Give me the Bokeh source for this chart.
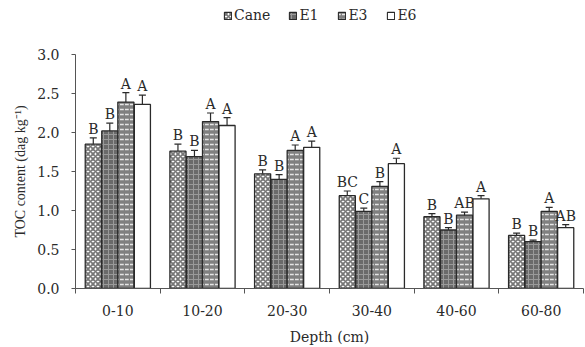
from bokeh.plotting import figure
from bokeh.layouts import column
from bokeh.models import (ColumnDataSource, Range1d, FixedTicker, Whisker, TeeHead,
                          Legend, LegendItem)
from bokeh.core.properties import value
from bokeh.embed import file_html
from bokeh.resources import INLINE

depths = ["0-10", "10-20", "20-30", "30-40", "40-60", "60-80"]
series = ["Cane", "E1", "E3", "E6"]
cane = [1.85, 1.76, 1.47, 1.19, 0.92, 0.68]
e1 = [2.02, 1.69, 1.40, 0.99, 0.75, 0.60]
e3 = [2.39, 2.14, 1.77, 1.31, 0.94, 0.99]
e6 = [2.36, 2.09, 1.81, 1.60, 1.15, 0.78]
cane_err = [0.08, 0.09, 0.05, 0.06, 0.04, 0.03]
e1_err = [0.10, 0.08, 0.06, 0.04, 0.03, 0.02]
e3_err = [0.12, 0.11, 0.07, 0.06, 0.04, 0.05]
e6_err = [0.12, 0.10, 0.08, 0.07, 0.04, 0.04]
cane_lbl = ["B", "B", "B", "BC", "B", "B"]
e1_lbl = ["B", "B", "B", "C", "B", "B"]
e3_lbl = ["A", "A", "A", "B", "AB", "A"]
e6_lbl = ["A", "A", "A", "A", "A", "AB"]
y_ticks = [0.0, 0.5, 1.0, 1.5, 2.0, 2.5, 3.0]

vals = [cane, e1, e3, e6]
errs = [cane_err, e1_err, e3_err, e6_err]
lbls = [cane_lbl, e1_lbl, e3_lbl, e6_lbl]

FONT = "DejaVu Serif"
VFONT = "Liberation Serif"
INK = "#2a2a2a"
styles = [
    dict(fill_color="white", hatch_pattern="diagonal_cross", hatch_color="#777777", hatch_scale=5, hatch_weight=1.8),
    dict(fill_color="#6a6a6a", hatch_pattern="cross", hatch_color="#9a9a9a", hatch_scale=5, hatch_weight=1),
    dict(fill_color="#808080", hatch_pattern="horizontal_dash", hatch_color="#e6e6e6", hatch_scale=5, hatch_weight=1.5),
    dict(fill_color="white", hatch_pattern=" ", hatch_color="white", hatch_scale=5, hatch_weight=1),
]

# legend strip on top (its ranges keep the proxy bars out of view)
lg = figure(width=585, height=46, output_backend="svg", toolbar_location=None,
            x_range=Range1d(100, 101), y_range=Range1d(100, 101),
            x_axis_location=None, y_axis_location=None,
            min_border_left=0, min_border_right=0, min_border_top=0, min_border_bottom=0)
lg.outline_line_color = None
lg.xgrid.grid_line_color = None
lg.ygrid.grid_line_color = None

p = figure(width=585, height=301, output_backend="svg", toolbar_location=None,
           x_range=Range1d(0, 6), y_range=Range1d(0, 3.0),
           min_border_left=75, min_border_top=8, min_border_bottom=59, min_border_right=2)
p.outline_line_color = None
p.xgrid.grid_line_color = None
p.ygrid.grid_line_color = None
p.background_fill_color = "white"

bw = 0.19
offs = [-0.29, -0.095, 0.095, 0.29]
items = []
for k in range(4):
    xs = [i + 0.5 + offs[k] for i in range(len(depths))]
    up = [v + e for v, e in zip(vals[k], errs[k])]
    lo = [v - e for v, e in zip(vals[k], errs[k])]
    src = ColumnDataSource(dict(x=xs, top=vals[k], upper=up, lower=lo, lbl=lbls[k]))
    p.vbar(x="x", top="top", width=bw, source=src, line_color=INK, line_width=1.3, **styles[k])
    proxy = lg.vbar(x="x", top="top", width=bw, source=src, line_color=INK, line_width=1.1, **styles[k])
    items.append(LegendItem(label=series[k], renderers=[proxy], index=0))
    w = Whisker(base="x", upper="upper", lower="lower", source=src, line_color=INK, line_width=1.2,
                upper_head=TeeHead(size=7, line_color=INK, line_width=1.2),
                lower_head=TeeHead(size=7, line_color=INK, line_width=1.2))
    p.add_layout(w)
    p.text(x="x", y="upper", text="lbl", source=src, text_align="center", text_baseline="bottom",
           y_offset=-1, text_font=value(FONT), text_font_size="14px", text_color=INK)

legend = Legend(items=items, orientation="horizontal", location=(148, 23),
                label_text_font=FONT, label_text_font_size="14px", label_text_color=INK,
                glyph_width=9, glyph_height=9, spacing=18, label_standoff=2, padding=0, margin=0,
                border_line_color=None, background_fill_alpha=0)
lg.add_layout(legend, "center")

ax = p.xaxis[0]
ax.ticker = FixedTicker(ticks=[i + 0.5 for i in range(6)], minor_ticks=list(range(7)))
ax.major_label_overrides = {i + 0.5: d for i, d in enumerate(depths)}
ax.major_tick_line_color = None
ax.minor_tick_out = 5
ax.minor_tick_in = 0
ax.minor_tick_line_color = "#555555"
ax.axis_line_color = "#555555"
ax.axis_label = "Depth (cm)"
ax.axis_label_text_font = FONT
ax.axis_label_text_font_style = "normal"
ax.axis_label_text_font_size = "14px"
ax.axis_label_standoff = 10
ax.major_label_text_font = FONT
ax.major_label_text_font_size = "14px"
ax.major_label_standoff = 10
ax.major_label_text_color = INK
ax.axis_label_text_color = INK

ay = p.yaxis[0]
ay.ticker = FixedTicker(ticks=y_ticks, minor_ticks=[])
ay.major_label_overrides = {t: f"{t:.1f}" for t in y_ticks}
ay.major_tick_out = 4
ay.major_tick_in = 0
ay.major_tick_line_color = "#555555"
ay.axis_line_color = "#555555"
ay.axis_label = "TOC content (dag kg\u207b\u00b9)"
ay.axis_label_text_font = VFONT
ay.axis_label_text_font_style = "normal"
ay.axis_label_text_font_size = "14px"
ay.axis_label_standoff = 6
ay.axis_label_text_color = INK
ay.major_label_text_font = FONT
ay.major_label_text_font_size = "14px"
ay.major_label_standoff = 12
ay.major_label_text_color = INK

layout = column(lg, p, spacing=0)
open("out.html", "w").write(file_html(layout, INLINE))
